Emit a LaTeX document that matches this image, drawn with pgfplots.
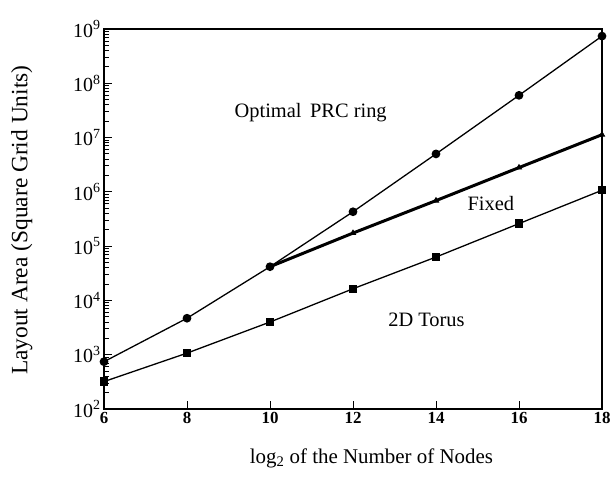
\documentclass[border=0pt]{standalone}
\usepackage{fontspec}
\setmainfont{Liberation Serif}
\usepackage{pgfplots}
\pgfplotsset{compat=1.18}
\usetikzlibrary{calc}
\begin{document}
\begin{tikzpicture}
\begin{axis}[
  scale only axis, width=498bp, height=380bp,
  ymode=log, xmin=6, xmax=18, ymin=1e2, ymax=1e9,
  xtick={6,8,10,12,14,16,18},
  xticklabels={\textbf{6},\textbf{8},\textbf{10},\textbf{12},\textbf{14},\textbf{16},\textbf{18}},
  ytickten={2,3,4,5,6,7,8,9},
  yticklabels={10\textsuperscript{2},10\textsuperscript{3},10\textsuperscript{4},10\textsuperscript{5},
    10\textsuperscript{6},10\textsuperscript{7},10\textsuperscript{8},10\textsuperscript{9}},
  xticklabel style={font=\fontsize{17}{17}\selectfont},
  yticklabel style={font=\fontsize{20}{20}\selectfont},
  tick align=inside, tick pos=left,
  major tick length=0.28cm, minor tick length=0.18cm,
  tick style={black, line width=1pt},
  axis on top,
  axis line style={line width=1.5bp},
  xlabel={log\textsubscript{2} of the Number of Nodes},
  ylabel={Layout Area (Square Grid Units)},
  xlabel style={font=\fontsize{21}{21}\selectfont, at={(axis description cs:0.537,-0.129)}, anchor=center},
  ylabel style={font=\fontsize{23.5}{23.5}\selectfont, at={(axis description cs:-0.165,0.497)}, anchor=center},
  clip mode=individual,
]
\addplot[black, line width=1.3bp, mark=*, mark size=3.7bp] coordinates {
  (6,743) (8,4700) (10,41800) (12,430000) (14,5.0e6) (16,6.0e7) (18,7.4e8)};
\addplot[black, line width=3bp, mark=triangle*, mark size=3bp, mark options={line width=0.8bp}] coordinates {
  (10,41800) (12,174000) (14,6.9e5) (16,2.8e6) (18,1.13e7)};
\addplot[black, line width=1.3bp, mark=square*, mark size=3.5bp] coordinates {
  (6,320) (8,1070) (10,4000) (12,16400) (14,63000) (16,2.6e5) (18,1.07e6)};
\node[font=\fontsize{20.5}{20.5}\selectfont] at (axis cs:10.98,2.9e7) {Optimal\, PRC ring};
\node[font=\fontsize{20.5}{20.5}\selectfont] at (axis cs:15.32,6.0e5) {Fixed};
\node[font=\fontsize{20.5}{20.5}\selectfont] at (axis cs:13.77,4.3e3) {2D Torus};
\end{axis}
\pgfresetboundingbox
\path ($(current axis.south west)+(-104bp,-69bp)$) rectangle ++(612bp,478bp);
\end{tikzpicture}
\end{document}
